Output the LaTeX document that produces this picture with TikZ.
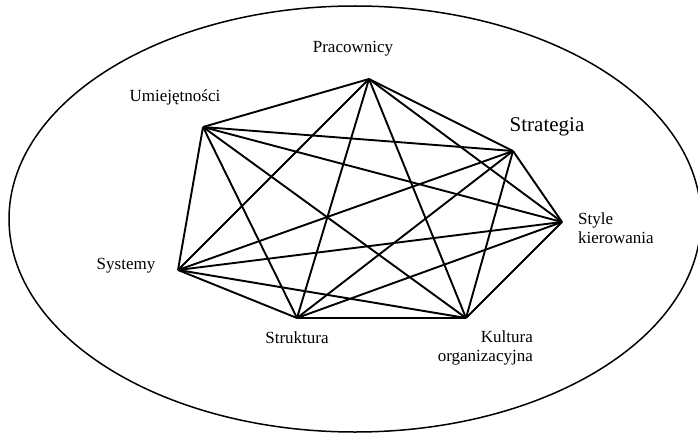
\documentclass[tikz,border=0pt]{standalone}
\usepackage{fontspec}
\setmainfont{Liberation Serif}
\begin{document}
\begin{tikzpicture}[x=1pt,y=-1pt,
  vtx/.style={inner sep=0pt,minimum size=0pt},
  lbl/.style={inner sep=0pt,font=\fontsize{17}{19}\selectfont},
  edge/.style={line width=1.9pt,line join=miter,line cap=butt}]
\path[use as bounding box] (0,0) rectangle (698,433);
\begin{scope}
\clip (0,0) rectangle (698,433);
\draw[line width=1.5pt] (355,219) ellipse [x radius=346, y radius=213];
\end{scope}
\coordinate (P) at (369,79);
\coordinate (St) at (513,151);
\coordinate (Sk) at (562,222);
\coordinate (K) at (466,318);
\coordinate (Sr) at (297,318);
\coordinate (Sy) at (178,270);
\coordinate (U) at (203,127);
\foreach \a/\b in {P/St,P/Sk,P/K,P/Sr,P/Sy,P/U,
  St/Sk,St/K,St/Sr,St/Sy,St/U,
  Sk/K,Sk/Sr,Sk/Sy,Sk/U,
  K/Sr,K/Sy,K/U,
  Sr/Sy,Sr/U,
  Sy/U}
  \draw[edge] (\a) -- (\b);
\node[lbl] (tP) at (353,49) {Pracownicy};
\node[lbl] (tU) at (175,97) {Umiejętności};
\node[lbl,font=\fontsize{21}{23}\selectfont] (tSt) at (547,127) {Strategia};
\node[lbl,anchor=west,align=left] (tSk) at (578,228) {Style\\kierowania};
\node[lbl] (tSy) at (126,266) {Systemy};
\node[lbl] (tSr) at (297,338) {Struktura};
\node[lbl,anchor=east,align=right] (tK) at (533,348) {Kultura\\organizacyjna};
\end{tikzpicture}
\end{document}
